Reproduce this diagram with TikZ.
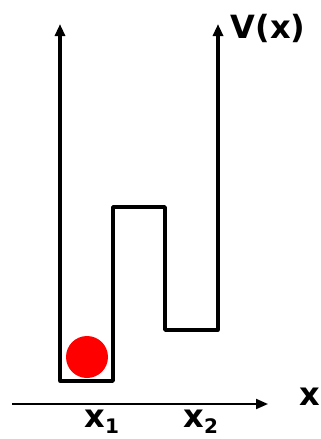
\documentclass[tikz,border=0pt]{standalone}
\usepackage{fontspec}
\setmainfont{DejaVu Sans}
\usetikzlibrary{arrows.meta, positioning}
\tikzset{
    x=1pt, y=-1pt, % picture units follow the pixel grid
    wall/.style={line width=3.6pt, line join=round, line cap=round}, % the potential
    axis/.style={line width=2pt, -{Triangle[length=12pt, width=10pt]}}, % axes with arrow
    lbl/.style={font=\bfseries\fontsize{32}{36}\selectfont, inner sep=0pt}, % big labels
    sub/.style={font=\bfseries\fontsize{20}{24}\selectfont, inner sep=0pt}, % subscripts
}
\begin{document}
\begin{tikzpicture}
    \useasboundingbox (0,0) rectangle (321,439);
    % corners of the double well
    \coordinate (topL) at (60,24);
    \coordinate (botL) at (60,381);
    \coordinate (botM) at (113,381);
    \coordinate (barL) at (113,207);
    \coordinate (barR) at (165,207);
    \coordinate (wellL) at (165,330);
    \coordinate (wellR) at (218,330);
    \coordinate (topR) at (218,24);
    \coordinate (xstart) at (12,404);
    \coordinate (xend) at (268,404);
    % the walls and axes
    \draw[wall] (botL) -- (botM) -- (barL) -- (barR) -- (wellL) -- (wellR);
    \draw[axis, line width=3.6pt] (botL) -- (topL);
    \draw[axis, line width=3.6pt] (wellR) -- (topR);
    \draw[axis] (xstart) -- (xend);
    % the particle
    \node[circle, fill=red, minimum size=42pt, inner sep=0pt] (ball) at (87,357) {};
    % labels
    \node[lbl] (V) at (268,28) {V(x)};
    \node[lbl] (xlab) at (310,397) {x};
    \node[lbl, anchor=base west] (x1) at (84,427) {x};
    \node[sub, anchor=base west] (s1) at (x1.base east) [yshift=-6pt] {1};
    \node[lbl, anchor=base west] (x2) at (183,427) {x};
    \node[sub, anchor=base west] (s2) at (x2.base east) [yshift=-6pt] {2};
\end{tikzpicture}
\end{document}
